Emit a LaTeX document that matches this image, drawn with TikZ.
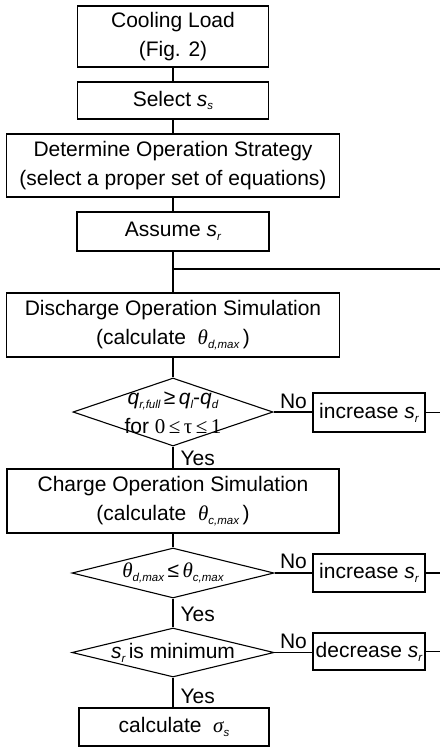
\documentclass[tikz,border=0pt]{standalone}
\usepackage{fontspec}
\setmainfont{Liberation Sans}
\newfontfamily\tnr{Liberation Serif}
\usetikzlibrary{shapes.geometric}
\newcommand{\mysub}[1]{\raisebox{-0.35ex}{\fontsize{11.5}{12}\selectfont\itshape #1}}
\newcommand{\vs}[1]{\textit{s}\mysub{#1}}
\newcommand{\vq}[1]{\textit{q}\mysub{#1}}
\newcommand{\thetasub}[1]{{\tnr\itshape θ}\mysub{#1}}
\begin{document}
\begin{tikzpicture}[x=1pt,y=-1pt,
  every node/.style={font=\fontsize{21}{29}\selectfont},
  box/.style={draw, line width=1.1pt, inner sep=0pt, align=center},
  dia/.style={draw, diamond, line width=1.1pt, inner sep=0pt},
  lbl/.style={inner sep=0pt, align=center},
  line width=1.1pt]
\useasboundingbox (0,0) rectangle (440,747);

% main column
\node[box, minimum width=191pt, minimum height=61pt] (cool) at (173,36.5) {Cooling Load\\(Fig. 2)};
\node[box, minimum width=191pt, minimum height=37pt] (sel) at (173,100.5) {Select \vs{s}};
\node[box, minimum width=333pt, minimum height=63pt] (det) at (173,165.5) {Determine Operation Strategy\\(select a proper set of equations)};
\node[box, minimum width=192pt, minimum height=39pt] (asm) at (173,231.5) {Assume \vs{r}};
\node[box, minimum width=333pt, minimum height=64pt] (dis) at (173,325) {Discharge Operation Simulation\\(calculate\ \ \thetasub{d,max}\,)};
\node[dia, minimum width=200pt, minimum height=68pt] (d1) at (173,412) {};
\node[lbl] (d1t) at (173,413) {\vq{r,full}\,≥\,\vq{l}-\vq{d}\\for {\tnr 0\,≤\,τ\,≤\,1}};
\node[box, minimum width=332pt, minimum height=64pt] (chg) at (173,501) {Charge Operation Simulation\\(calculate\ \ \thetasub{c,max}\,)};
\node[dia, minimum width=202pt, minimum height=50pt] (d2) at (173,573) {};
\node[lbl] (d2t) at (173,573) {\thetasub{d,max}\,≤\,\thetasub{c,max}};
\node[dia, minimum width=202pt, minimum height=49pt] (d3) at (173,652.5) {};
\node[lbl] (d3t) at (173,652.5) {\vs{r}\,is minimum};
\node[box, minimum width=190pt, minimum height=38pt] (calc) at (174,727) {calculate\ \ {\tnr\itshape σ}\mysub{s}};

% side boxes
\node[box, minimum width=112pt, minimum height=39pt] (inc1) at (369,412.5) {increase \vs{r}};
\node[box, minimum width=112pt, minimum height=38pt] (inc2) at (369,573) {increase \vs{r}};
\node[box, minimum width=112pt, minimum height=37pt] (dec) at (369,651.5) {decrease \vs{r}};

% labels
\node[lbl] (no1) at (293.5,401) {No};
\node[lbl] (no2) at (293.5,561) {No};
\node[lbl] (no3) at (293.5,641.5) {No};
\node[lbl, anchor=west] (yes1) at (180,458) {Yes};
\node[lbl, anchor=west] (yes2) at (180,614) {Yes};
\node[lbl, anchor=west] (yes3) at (180,696) {Yes};

% coordinates
\coordinate (j) at (173,269);
\coordinate (je) at (440,269);
\coordinate (r1) at (440,412.5);
\coordinate (r2) at (440,573);
\coordinate (r3) at (440,651.5);

% connectors
\draw (cool.south) -- (sel.north);
\draw (sel.south) -- (det.north);
\draw (det.south) -- (asm.north);
\draw (asm.south) -- (dis.north);
\draw (j) -- (je);
\draw (dis.south) -- (d1.north);
\draw (d1.south) -- (chg.north);
\draw (chg.south) -- (d2.north);
\draw (d2.south) -- (d3.north);
\draw (d3.south) -- (d3.south |- calc.north);
\draw (d1.east) -- (d1.east -| inc1.west);
\draw (d2.east) -- (d2.east -| inc2.west);
\draw (d3.east) -- (d3.east -| dec.west);
\draw (inc1.east) -- (r1);
\draw (inc2.east) -- (r2);
\draw (dec.east) -- (r3);
\end{tikzpicture}
\end{document}
